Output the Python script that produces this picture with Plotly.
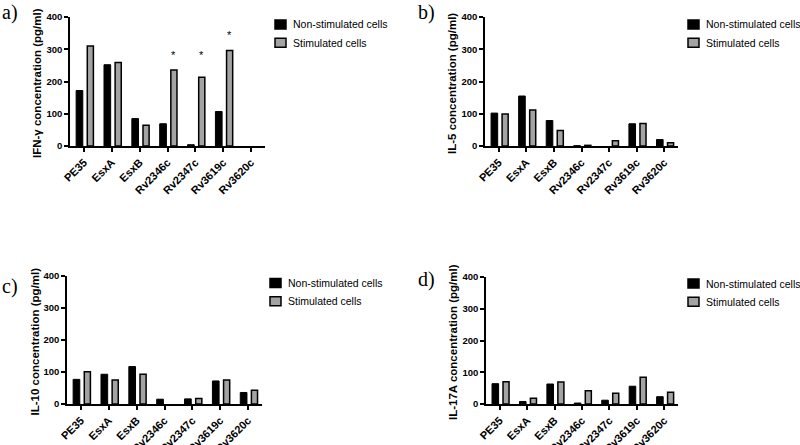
import plotly.graph_objects as go

categories = ["PE35", "EsxA", "EsxB", "Rv2346c", "Rv2347c", "Rv3619c", "Rv3620c"]

ifng_non = [172, 252, 85, 69, 4, 107, 0]
ifng_stim = [310, 259, 64, 236, 213, 296, 0]
ifng_star_idx = [3, 4, 5]
ifng_star_y = [281, 281, 345]

il5_non = [102, 155, 79, 1, 0, 69, 20]
il5_stim = [99, 112, 48, 2, 16, 70, 10]

il10_non = [77, 93, 117, 15, 16, 72, 36]
il10_stim = [101, 75, 93, 0, 17, 75, 43]

il17_non = [64, 8, 63, 3, 12, 56, 23]
il17_stim = [70, 18, 69, 42, 34, 84, 37]

y_titles = ["IFN-\u03b3 concentration (pg/ml)", "IL-5 concentration (pg/ml)",
            "IL-10 concentration (pg/ml)", "IL-17A concentration (pg/ml)"]
panel_labels = ["a)", "b)", "c)", "d)"]
series_names = ["Non-stimulated cells", "Stimulated cells"]
y_ticks = [0, 100, 200, 300, 400]

W, H = 800, 445
FONT = "Liberation Sans, Arial, sans-serif"
GRAY = "#a3a3a3"

# panel geometry in pixels: (x0, x1, ytop, ybottom)
panels = [(70, 265, 17, 146), (485, 678, 17, 146), (67, 262, 276, 404), (486, 678, 277, 404)]
label_pos = [(0, 12), (416, 12), (0, 286), (416, 279)]
legend_pos = [(275, 24.5), (688, 24.5), (270, 283), (688, 283.5)]

data = [(ifng_non, ifng_stim), (il5_non, il5_stim), (il10_non, il10_stim), (il17_non, il17_stim)]

fig = go.Figure()
layout = {}
annotations = []
shapes = []
for i, ((x0, x1, yt, yb), (non, stim)) in enumerate(zip(panels, data)):
    n = "" if i == 0 else str(i + 1)
    xa, ya = "x" + n, "y" + n
    fig.add_trace(go.Bar(x=categories, y=non, name=series_names[0], xaxis=xa, yaxis=ya,
                         width=0.24, offset=-0.28,
                         marker=dict(color="black",
                                     line=dict(color="black", width=[1 if v > 0 else 0 for v in non])),
                         showlegend=False))
    fig.add_trace(go.Bar(x=categories, y=stim, name=series_names[1], xaxis=xa, yaxis=ya,
                         width=0.22, offset=0.12,
                         marker=dict(color=GRAY,
                                     line=dict(color="black", width=[1.5 if v > 0 else 0 for v in stim])),
                         showlegend=False))
    layout["xaxis" + n] = dict(domain=[x0 / W, x1 / W], anchor=ya, type="category", automargin=False,
                               range=[-0.5, 6.5], showline=True, linecolor="black", linewidth=1.5,
                               ticks="outside", ticklen=4, tickwidth=1.5, tickcolor="black",
                               tickangle=-45, showgrid=False, zeroline=False,
                               tickfont=dict(family=FONT, size=11, color="black", weight="bold"))
    layout["yaxis" + n] = dict(domain=[1 - yb / H, 1 - yt / H], anchor=xa, range=[0, 400], automargin=False,
                               tickvals=y_ticks, showline=True, linecolor="black", linewidth=1.5,
                               ticks="outside", ticklen=4, tickwidth=1.5, tickcolor="black",
                               showgrid=False, zeroline=False,
                               tickfont=dict(family=FONT, size=9.5, color="black", weight="bold"))
    annotations.append(dict(text=y_titles[i], xref="paper", yref="paper",
                            x=(x0 - 33) / W, y=1 - ((yt + yb) / 2 + 1.5) / H, textangle=-90,
                            xanchor="center", yanchor="middle", showarrow=False,
                            font=dict(family=FONT, size=11.5, color="black", weight="bold")))

for i, (lx, ly) in enumerate(label_pos):
    annotations.append(dict(text=panel_labels[i], xref="paper", yref="paper", x=lx / W, y=1 - ly / H,
                            xanchor="left", yanchor="middle", showarrow=False,
                            font=dict(family="Liberation Serif, Times New Roman, serif", size=20, color="black")))
for i, (lx, ly) in enumerate(legend_pos):
    for j, name in enumerate(series_names):
        cy = ly + j * 18.2
        shapes.append(dict(type="rect", xref="paper", yref="paper",
                           x0=lx / W, x1=(lx + 11) / W, y0=1 - (cy + 4.5) / H, y1=1 - (cy - 4.5) / H,
                           fillcolor="black" if j == 0 else GRAY,
                           line=dict(color="black", width=1.5)))
        annotations.append(dict(text=name, xref="paper", yref="paper", x=(lx + 16) / W, y=1 - cy / H,
                                xanchor="left", yanchor="middle", showarrow=False,
                                font=dict(family=FONT, size=10.5, color="black")))
for idx, sy in zip(ifng_star_idx, ifng_star_y):
    annotations.append(dict(text="*", xref="x", yref="y", x=idx + 0.23, y=sy, showarrow=False,
                            xanchor="center", yanchor="middle",
                            font=dict(family=FONT, size=11, color="black")))

fig.update_layout(width=W, height=H, margin=dict(l=0, r=0, t=0, b=0),
                  plot_bgcolor="white", paper_bgcolor="white", showlegend=False,
                  annotations=annotations, shapes=shapes, **layout)
fig.write_html("out.html", config={"displayModeBar": False},
               post_script="document.body.style.margin='0px';")
